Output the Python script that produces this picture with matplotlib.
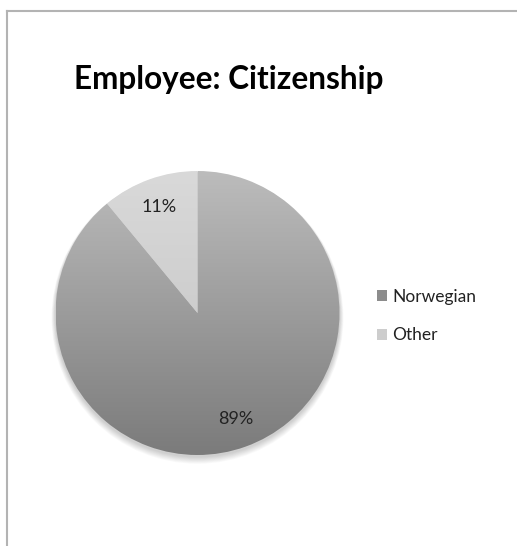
import numpy as np
import matplotlib
matplotlib.use("Agg")
import matplotlib.pyplot as plt
from matplotlib.patches import Patch, Circle
from matplotlib.lines import Line2D

labels = ["Norwegian", "Other"]
shares = [89, 11]
# top / bottom shade of each slice's vertical gradient
tops = ["#bcbcbc", "#d9d9d9"]
bottoms = ["#7b7b7b", "#c2c2c2"]
swatches = ["#8c8c8c", "#cdcdcd"]

W, H = 517, 546
fig = plt.figure(figsize=(W / 100, H / 100), dpi=100)
ax = fig.add_axes([0, 0, 1, 1])
plt.rcParams["font.family"] = ["Lato", "DejaVu Sans"]

cx, cy, r = 197.5, H - 313, 142

# soft drop shadow under the pie
for i in range(8):
    ax.add_patch(Circle((cx, cy - 2 - i * 0.4), r + 0.5 + i * 0.5,
                        color="black", alpha=0.025, lw=0, zorder=0))

wedges, texts, autotexts = ax.pie(
    shares, center=(cx, cy), radius=r, startangle=90, counterclock=False,
    autopct="%d%%", pctdistance=0.79, frame=True,
    textprops=dict(fontsize=13, color="#222222"),
    wedgeprops=dict(linewidth=0),
)

def vgrad(c_top, c_bot):
    a = np.array(matplotlib.colors.to_rgb(c_top))
    b = np.array(matplotlib.colors.to_rgb(c_bot))
    t = np.linspace(0, 1, 256)[:, None, None]
    return (a + (b - a) * t) * np.ones((1, 2, 3))

for w, c1, c2 in zip(wedges, tops, bottoms):
    w.set_facecolor("none")
    im = ax.imshow(vgrad(c1, c2), extent=(cx - r, cx + r, cy - r, cy + r),
                   aspect="auto", zorder=1, interpolation="bilinear")
    im.set_clip_path(w)

for t in autotexts:
    t.set_zorder(3)

ax.set_xlim(0, W)
ax.set_ylim(0, H)
ax.set_aspect("auto")
ax.axis("off")

# frame lines along the top and left edge
ax.add_line(Line2D([7, 7], [0, H - 11], color="#b3b3b3", lw=1.5))
ax.add_line(Line2D([7, W], [H - 11, H - 11], color="#b3b3b3", lw=1.5))

ax.text(74, H - 80, "Employee: Citizenship", fontsize=22.7, fontweight="bold",
        color="black", va="center", ha="left")

handles = [Patch(facecolor=c, edgecolor="none") for c in swatches]
fig.legend(handles, labels, loc="center left", bbox_to_anchor=(361 / W, 1 - 316 / H),
           frameon=False, fontsize=12.5, handlelength=0.6, handleheight=0.6,
           handletextpad=0.3, labelspacing=1.3, labelcolor="#222222")

fig.savefig("out.png", dpi=100)
